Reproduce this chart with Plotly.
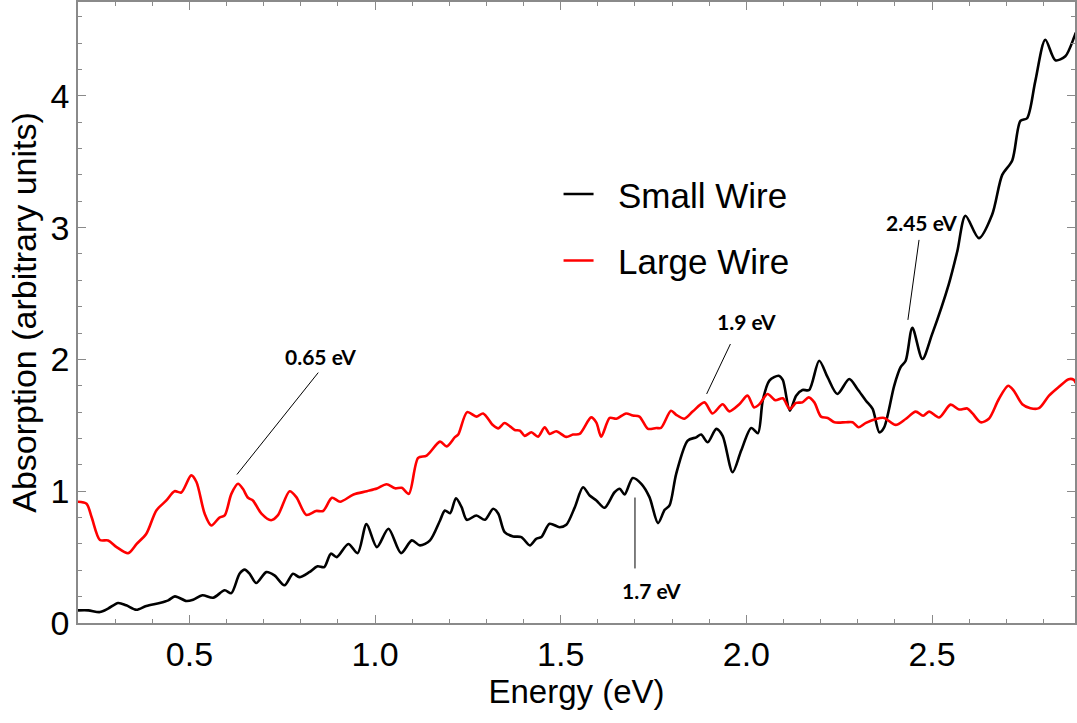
import plotly.graph_objects as go

# Absorption spectra of the two wire sizes (energy in eV, absorption in arbitrary units)
small_energy = [
    0.200, 0.228, 0.259, 0.281, 0.308, 0.330, 0.357, 0.384, 0.420, 0.443,
    0.461, 0.492, 0.510, 0.535, 0.564, 0.595, 0.613, 0.635, 0.649, 0.662,
    0.680, 0.707, 0.729, 0.756, 0.779, 0.796, 0.823, 0.845, 0.863, 0.881,
    0.897, 0.928, 0.953, 0.977, 1.005, 1.036, 1.070, 1.099, 1.121, 1.148,
    1.175, 1.188, 1.202, 1.218, 1.233, 1.247, 1.273, 1.296, 1.318, 1.332,
    1.349, 1.372, 1.394, 1.417, 1.434, 1.448, 1.470, 1.497, 1.515, 1.538,
    1.560, 1.578, 1.596, 1.618, 1.645, 1.659, 1.672, 1.694, 1.717, 1.739,
    1.762, 1.780, 1.793, 1.811, 1.842, 1.865, 1.878, 1.896, 1.919, 1.936,
    1.963, 1.986, 2.013, 2.031, 2.044, 2.062, 2.087, 2.098, 2.117, 2.134,
    2.151, 2.169, 2.196, 2.219, 2.245, 2.277, 2.299, 2.322, 2.340, 2.358,
    2.371, 2.398, 2.415, 2.429, 2.447, 2.474, 2.500, 2.545, 2.568, 2.590,
    2.626, 2.662, 2.689, 2.716, 2.738, 2.756, 2.778, 2.805, 2.832, 2.859,
    2.882, 2.887,
]
small_absorption = [
    0.096, 0.096, 0.083, 0.109, 0.152, 0.134, 0.100, 0.129, 0.152, 0.172,
    0.202, 0.167, 0.177, 0.210, 0.192, 0.248, 0.227, 0.374, 0.405, 0.374,
    0.303, 0.386, 0.361, 0.286, 0.374, 0.348, 0.386, 0.430, 0.424, 0.526,
    0.500, 0.600, 0.530, 0.750, 0.576, 0.715, 0.530, 0.627, 0.589, 0.627,
    0.778, 0.854, 0.833, 0.947, 0.879, 0.783, 0.816, 0.783, 0.867, 0.829,
    0.689, 0.657, 0.652, 0.589, 0.639, 0.652, 0.753, 0.727, 0.745, 0.879,
    1.030, 0.967, 0.930, 0.874, 0.992, 1.018, 0.975, 1.100, 1.056, 0.955,
    0.758, 0.859, 0.892, 1.132, 1.384, 1.409, 1.430, 1.371, 1.473, 1.420,
    1.144, 1.308, 1.480, 1.440, 1.687, 1.839, 1.876, 1.844, 1.611, 1.725,
    1.768, 1.768, 1.990, 1.864, 1.738, 1.851, 1.776, 1.687, 1.624, 1.447,
    1.485, 1.800, 1.939, 1.990, 2.240, 2.003, 2.190, 2.570, 2.820, 3.090,
    2.920, 3.100, 3.400, 3.510, 3.810, 3.830, 4.110, 4.425, 4.270, 4.300,
    4.440, 4.480,
]

large_energy = [
    0.200, 0.223, 0.237, 0.259, 0.281, 0.304, 0.335, 0.358, 0.384, 0.411,
    0.438, 0.460, 0.478, 0.505, 0.519, 0.541, 0.559, 0.581, 0.595, 0.613,
    0.631, 0.644, 0.658, 0.671, 0.694, 0.720, 0.738, 0.770, 0.788, 0.815,
    0.841, 0.860, 0.884, 0.906, 0.942, 0.978, 1.005, 1.031, 1.054, 1.072,
    1.091, 1.116, 1.139, 1.175, 1.193, 1.215, 1.224, 1.248, 1.273, 1.291,
    1.318, 1.332, 1.349, 1.376, 1.390, 1.403, 1.421, 1.439, 1.457, 1.470,
    1.488, 1.515, 1.533, 1.551, 1.582, 1.596, 1.609, 1.632, 1.650, 1.676,
    1.694, 1.712, 1.735, 1.757, 1.770, 1.797, 1.811, 1.833, 1.856, 1.887,
    1.909, 1.936, 1.954, 1.981, 2.003, 2.021, 2.035, 2.057, 2.078, 2.098,
    2.117, 2.134, 2.151, 2.168, 2.183, 2.201, 2.219, 2.237, 2.268, 2.286,
    2.302, 2.322, 2.349, 2.371, 2.402, 2.429, 2.456, 2.476, 2.492, 2.519,
    2.550, 2.573, 2.595, 2.609, 2.631, 2.653, 2.680, 2.705, 2.720, 2.743,
    2.765, 2.788, 2.815, 2.841, 2.868, 2.882, 2.887,
]
large_absorption = [
    0.920, 0.905, 0.800, 0.630, 0.626, 0.576, 0.530, 0.600, 0.677, 0.854,
    0.930, 1.000, 0.990, 1.120, 1.070, 0.830, 0.740, 0.800, 0.816, 0.980,
    1.056, 1.018, 0.950, 0.930, 0.830, 0.780, 0.816, 1.000, 0.955, 0.820,
    0.850, 0.850, 0.950, 0.920, 0.975, 1.000, 1.020, 1.053, 1.022, 1.026,
    0.980, 1.253, 1.270, 1.376, 1.340, 1.410, 1.430, 1.600, 1.566, 1.590,
    1.500, 1.477, 1.518, 1.465, 1.460, 1.420, 1.447, 1.414, 1.485, 1.435,
    1.455, 1.412, 1.430, 1.435, 1.560, 1.520, 1.414, 1.556, 1.550, 1.590,
    1.574, 1.566, 1.473, 1.480, 1.480, 1.610, 1.580, 1.550, 1.606, 1.674,
    1.590, 1.660, 1.606, 1.660, 1.725, 1.636, 1.660, 1.738, 1.690, 1.705,
    1.624, 1.670, 1.674, 1.712, 1.674, 1.566, 1.556, 1.523, 1.523, 1.523,
    1.485, 1.518, 1.548, 1.556, 1.503, 1.548, 1.604, 1.573, 1.604, 1.560,
    1.657, 1.620, 1.628, 1.590, 1.523, 1.550, 1.700, 1.800, 1.763, 1.660,
    1.630, 1.630, 1.725, 1.790, 1.850, 1.845, 1.820,
]

# Labelled features: text, text position, leader line (x0, y0, x1, y1)
feature_labels = ["0.65 eV", "1.7 eV", "1.9 eV", "2.45 eV"]
label_x = [0.852, 1.745, 2.000, 2.472]
label_y = [2.020, 0.248, 2.286, 3.038]
leader_x0 = [0.628, 1.700, 1.893, 2.435]
leader_y0 = [1.127, 0.952, 1.738, 2.300]
leader_x1 = [0.847, 1.700, 1.957, 2.465]
leader_y1 = [1.900, 0.414, 2.117, 2.907]

fig = go.Figure()
fig.add_trace(go.Scatter(
    x=small_energy, y=small_absorption, mode="lines",
    name="&nbsp;&nbsp;Small Wire", legendgroup="small",
    line=dict(color="black", width=2.6, shape="spline", smoothing=0.8),
))
fig.add_trace(go.Scatter(
    x=large_energy, y=large_absorption, mode="lines",
    name="&nbsp;&nbsp;Large Wire", legendgroup="large",
    line=dict(color="#ff0000", width=2.6, shape="spline", smoothing=0.8),
))

for txt, tx, ty, x0, y0, x1, y1 in zip(feature_labels, label_x, label_y,
                                        leader_x0, leader_y0, leader_x1, leader_y1):
    fig.add_shape(type="line", x0=x0, y0=y0, x1=x1, y1=y1, xref="x", yref="y",
                  line=dict(color="black", width=1))
    fig.add_annotation(x=tx, y=ty, text="<b>" + txt + "</b>", showarrow=False,
                       font=dict(family="Lato", size=21, color="black"),
                       xanchor="center", yanchor="middle")

axis_common = dict(
    showline=True, linecolor="#8a8a8a", linewidth=1.5, mirror="allticks",
    ticks="inside", tickcolor="#8a8a8a", tickwidth=1.2, ticklen=8,
    showgrid=False, zeroline=False,
    tickfont=dict(family="Liberation Sans, Arial", size=34, color="black"),
)

fig.update_layout(
    width=1077, height=723,
    margin=dict(l=78, r=0, t=1, b=100),
    paper_bgcolor="white", plot_bgcolor="white",
    font=dict(family="Liberation Sans, Arial", color="black"),
    xaxis=dict(
        range=[0.2, 2.885], tickvals=[0.5, 1.0, 1.5, 2.0, 2.5], tickformat=".1f",
        minor=dict(dtick=0.1, tick0=0, ticks="inside", ticklen=4,
                   tickcolor="#8a8a8a", tickwidth=1),
        title=dict(text="Energy (eV)", font=dict(size=33), standoff=8),
        **axis_common,
    ),
    yaxis=dict(
        range=[0, 4.712], tickvals=[0, 1, 2, 3, 4],
        minor=dict(dtick=0.2, tick0=0, ticks="inside", ticklen=4,
                   tickcolor="#8a8a8a", tickwidth=1),
        title=dict(text="Absorption (arbitrary units)", font=dict(size=34), standoff=4),
        **axis_common,
    ),
    showlegend=True,
    legend=dict(
        x=0.482, y=0.738, xanchor="left", yanchor="top",
        bgcolor="rgba(0,0,0,0)", borderwidth=0,
        font=dict(family="Liberation Sans, Arial", size=35, color="black"),
        tracegroupgap=18,
    ),
)

fig.write_html("out.html")
